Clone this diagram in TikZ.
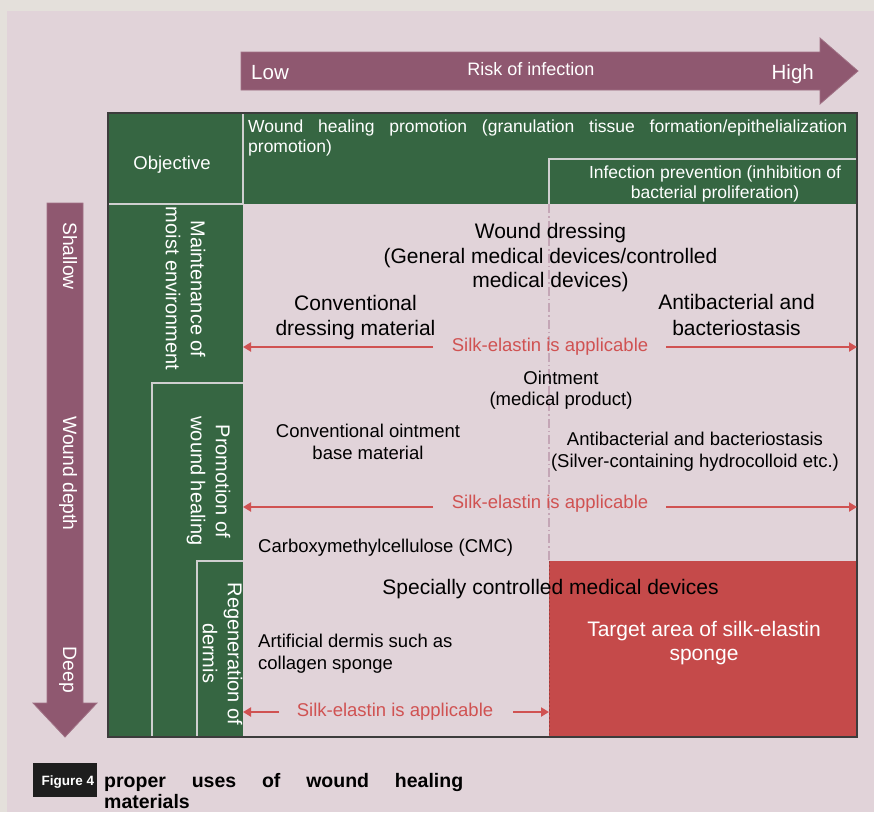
\documentclass[tikz,border=0pt]{standalone}
\usepackage{fontspec}
\setmainfont{Liberation Sans}
\usetikzlibrary{arrows.meta}
\definecolor{bggray}{HTML}{E4E0DB}
\definecolor{bgpink}{HTML}{E1D3D9}
\definecolor{dgreen}{HTML}{366642}
\definecolor{purp}{HTML}{8F5870}
\definecolor{redarea}{HTML}{C54A4A}
\definecolor{redtxt}{HTML}{D05252}
\definecolor{sepline}{HTML}{CFCFCF}
\definecolor{framecol}{HTML}{3C3C3C}
\definecolor{dashcol}{HTML}{C4A6B6}
\definecolor{capblack}{HTML}{1E1E1E}
\begin{document}
\begin{tikzpicture}[x=1pt,y=1pt,
  txt/.style={inner sep=0pt, anchor=base},
  bigtxt/.style={txt, font=\fontsize{21}{24}\selectfont},
  smtxt/.style={txt, font=\fontsize{18.5}{21}\selectfont},
  toptxt/.style={txt, font=\fontsize{17.5}{20}\selectfont, text=white},
  sidetxt/.style={txt, font=\fontsize{20}{24}\selectfont, text=white, rotate=-90},
  depthtxt/.style={txt, font=\fontsize{19.3}{22}\selectfont, text=white, rotate=-90},
  silktxt/.style={smtxt, text=redtxt},
  silkarrow/.style={draw=redtxt, line width=2pt, -{Triangle[length=8pt,width=9pt]}},
  sepl/.style={draw=sepline, line width=1.6pt},
  bigarrow/.style={fill=purp, draw=purp!85!white, line width=0.8pt},
]
\useasboundingbox (0,0) rectangle (874,-812);
\fill[bggray] (0,0) rectangle (874,-812);
\fill[bgpink] (7,-11) rectangle (874,-812);

% top arrow
\path[bigarrow] (241,-52) -- (820,-52) -- (820,-38) -- (858,-71) -- (820,-104) -- (820,-90) -- (241,-90) -- cycle;
\node[txt, font=\fontsize{20.5}{24}\selectfont, text=white, anchor=base west] (low) at (251,-79.3) {Low};
\node[txt, font=\fontsize{18}{22}\selectfont, text=white] (risk) at (531,-75.8) {Risk of infection};
\node[txt, font=\fontsize{20.5}{24}\selectfont, text=white, anchor=base east] (high) at (814,-79.3) {High};

% left arrow
\path[bigarrow] (47,-203) -- (83,-203) -- (83,-703) -- (97,-703) -- (65,-737) -- (33,-703) -- (47,-703) -- cycle;
\node[depthtxt] (shallow) at (63.2,-256) {Shallow};
\node[depthtxt] (depth) at (63.2,-473.5) {Wound depth};
\node[depthtxt] (deep) at (63.2,-670) {Deep};

% table
\fill[dgreen] (108,-113) rectangle (857,-204);
\fill[dgreen] (108,-204) rectangle (243,-737);
\fill[redarea] (549,-561) rectangle (857,-737);
\draw[sepl] (243,-113) -- (243,-204);
\draw[sepl] (108,-204) -- (243,-204);
\draw[sepl] (549,-204) -- (549,-159) -- (857,-159);
\draw[sepl] (152,-737) -- (152,-383) -- (243,-383);
\draw[sepl] (197,-737) -- (197,-561) -- (243,-561);
\draw[dashcol, line width=1.2pt, dash pattern=on 9pt off 3pt on 1.5pt off 3pt] (549,-204) -- (549,-561);
\draw[redarea!80!black, line width=1pt, dash pattern=on 2pt off 2pt] (549.5,-561) -- (549.5,-737);
\draw[framecol, line width=2pt] (108,-113) rectangle (857,-737);

% header texts
\node[smtxt, text=white] (obj) at (172,-169.6) {Objective};
\node[toptxt, anchor=base west] (whp1) at (248,-132.3) {\makebox[599pt][s]{Wound healing promotion (granulation tissue formation/epithelialization}};
\node[toptxt, anchor=base west] (whp2) at (248,-152.3) {promotion)};
\node[toptxt] (inf1) at (715,-178.3) {Infection prevention (inhibition of};
\node[toptxt] (inf2) at (715,-198.3) {bacterial proliferation)};

% side labels
\node[sidetxt] (mt1) at (190.8,-289) {Maintenance of};
\node[sidetxt] (mt2) at (165.8,-288.5) {moist environment};
\node[sidetxt] (pr1) at (215.8,-481.5) {Promotion of};
\node[sidetxt] (pr2) at (190.8,-481) {wound healing};
\node[sidetxt] (rg1) at (227.8,-654) {Regeneration of};
\node[sidetxt] (rg2) at (202.8,-653) {dermis};

% content texts
\node[bigtxt] (wd1) at (550.5,-238.5) {Wound dressing};
\node[bigtxt] (wd2) at (550.5,-263.5) {(General medical devices/controlled};
\node[bigtxt] (wd3) at (550.5,-287.5) {medical devices)};
\node[bigtxt] (cd1) at (355.5,-310.5) {Conventional};
\node[bigtxt] (cd2) at (355.5,-335.5) {dressing material};
\node[bigtxt] (ab1) at (736.5,-309.5) {Antibacterial and};
\node[bigtxt] (ab2) at (736.5,-335.5) {bacteriostasis};

\node[smtxt] (oi1) at (561,-384.6) {Ointment};
\node[smtxt] (oi2) at (561,-405.6) {(medical product)};
\node[smtxt] (co1) at (368,-437.6) {Conventional ointment};
\node[smtxt] (co2) at (368,-459.6) {base material};
\node[smtxt] (as1) at (695,-445.6) {Antibacterial and bacteriostasis};
\node[smtxt] (as2) at (695,-467.6) {(Silver-containing hydrocolloid etc.)};
\node[smtxt, anchor=base west] (cmc) at (258,-552.6) {Carboxymethylcellulose (CMC)};

\node[bigtxt] (scm) at (550.5,-594.5) {Specially controlled medical devices};
\node[bigtxt, text=white] (ta1) at (704,-636.5) {Target area of silk-elastin};
\node[bigtxt, text=white] (ta2) at (704,-660.5) {sponge};
\node[smtxt, anchor=base west] (ad1) at (258,-647.6) {Artificial dermis such as};
\node[smtxt, anchor=base west] (ad2) at (258,-669.6) {collagen sponge};

% silk-elastin arrows
\node[silktxt] (silk1) at (550,-351.6) {Silk-elastin is applicable};
\coordinate (s1l) at (433,-347); \coordinate (s1le) at (243,-347);
\coordinate (s1r) at (666,-347); \coordinate (s1re) at (857,-347);
\draw[silkarrow] (s1l) -- (s1le);
\draw[silkarrow] (s1r) -- (s1re);

\node[silktxt] (silk2) at (550,-508.6) {Silk-elastin is applicable};
\coordinate (s2l) at (433,-507); \coordinate (s2le) at (243,-507);
\coordinate (s2r) at (666,-507); \coordinate (s2re) at (857,-507);
\draw[silkarrow] (s2l) -- (s2le);
\draw[silkarrow] (s2r) -- (s2re);

\node[silktxt] (silk3) at (395,-716.6) {Silk-elastin is applicable};
\coordinate (s3l) at (279,-712); \coordinate (s3le) at (243,-712);
\coordinate (s3r) at (513,-712); \coordinate (s3re) at (549,-712);
\draw[silkarrow] (s3l) -- (s3le);
\draw[silkarrow] (s3r) -- (s3re);

% caption
\node[fill=capblack, minimum width=64pt, minimum height=34pt, inner sep=0pt, anchor=north west] (figbox) at (33,-763) {};
\node[txt, font=\bfseries\fontsize{13.5}{16}\selectfont, text=white] (figlbl) at (68,-785.5) {Figure 4};
\node[txt, font=\bfseries\fontsize{19.5}{22}\selectfont, anchor=base west] (cap1) at (104,-787) {\makebox[359pt][s]{proper uses of wound healing}};
\node[txt, font=\bfseries\fontsize{19.5}{22}\selectfont, anchor=base west] (cap2) at (104,-808) {materials};
\end{tikzpicture}
\end{document}
